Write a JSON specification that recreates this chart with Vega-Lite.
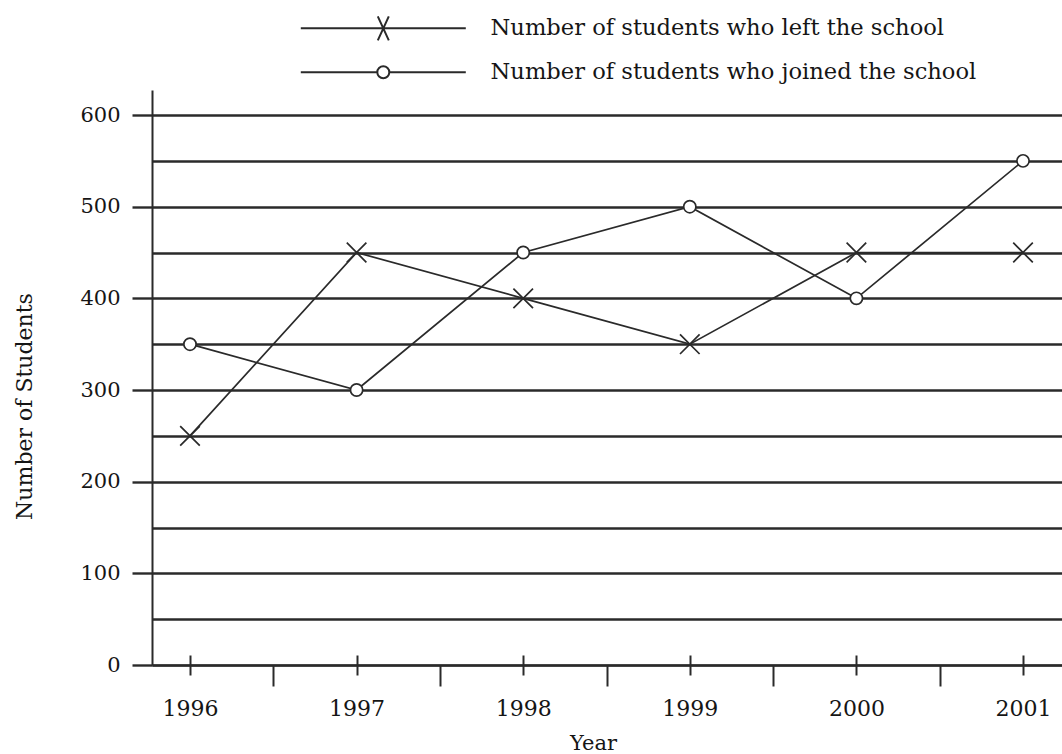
{
  "$schema": "https://vega.github.io/schema/vega-lite/v6.json",
  "width": 910,
  "height": 575,
  "autosize": {"type": "none"},
  "padding": {"left": 152, "top": 90, "right": 0, "bottom": 89},
  "background": "white",
  "config": {
    "view": {"stroke": null},
    "font": "DejaVu Serif",
    "axis": {"labelFont": "DejaVu Serif", "titleFont": "DejaVu Serif", "labelColor": "#151515", "titleColor": "#151515", "domainColor": "#2a2a2a", "tickColor": "#2a2a2a", "gridColor": "#2a2a2a"},
    "legend": {"labelFont": "DejaVu Serif"}
  },
  "data": {"values": [
    {"year": 1996, "series": "Number of students who left the school", "students": 250},
    {"year": 1997, "series": "Number of students who left the school", "students": 450},
    {"year": 1998, "series": "Number of students who left the school", "students": 400},
    {"year": 1999, "series": "Number of students who left the school", "students": 350},
    {"year": 2000, "series": "Number of students who left the school", "students": 450},
    {"year": 2001, "series": "Number of students who left the school", "students": 450},
    {"year": 1996, "series": "Number of students who joined the school", "students": 350},
    {"year": 1997, "series": "Number of students who joined the school", "students": 300},
    {"year": 1998, "series": "Number of students who joined the school", "students": 450},
    {"year": 1999, "series": "Number of students who joined the school", "students": 500},
    {"year": 2000, "series": "Number of students who joined the school", "students": 400},
    {"year": 2001, "series": "Number of students who joined the school", "students": 550}
  ]},
  "encoding": {
    "y": {
      "field": "students", "type": "quantitative",
      "scale": {"domain": [0, 627.3], "nice": false, "zero": true},
      "axis": {
        "values": [0, 50, 100, 150, 200, 250, 300, 350, 400, 450, 500, 550, 600],
        "grid": true, "gridWidth": 2.4, "gridColor": "#2a2a2a",
        "tickSize": 20, "tickWidth": 2.4,
        "tickOpacity": {"condition": {"test": "datum.value % 100 === 0", "value": 1}, "value": 0},
        "labelExpr": "datum.value % 100 === 0 ? datum.label : ''",
        "labelPadding": 12, "labelFontSize": 21,
        "domainWidth": 2,
        "title": "Number of Students", "titleFontSize": 22, "titleFontWeight": "normal",
        "titleX": -128, "titleY": 316, "titleBaseline": "middle", "titleAngle": 270
      }
    }
  },
  "layer": [
    {
      "mark": {"type": "line", "stroke": "#2a2a2a", "strokeWidth": 1.7},
      "encoding": {
        "x": {
          "field": "year", "type": "quantitative",
          "scale": {"domain": [1995.772, 2001.234], "nice": false, "zero": false},
          "axis": {
            "orient": "bottom",
            "values": [1996, 1996.5, 1997, 1997.5, 1998, 1998.5, 1999, 1999.5, 2000, 2000.5, 2001],
            "tickSize": 21,
            "tickDash": {"condition": {"test": "datum.value % 1 === 0", "value": [10, 40]}, "value": [40, 1]},
            "tickWidth": 2,
            "labelExpr": "datum.value % 1 === 0 ? '' + datum.value : ''",
            "labelPadding": 12, "labelFontSize": 22, "labelDx": 3,
            "domainWidth": 2.2, "grid": false,
            "title": "Year", "titleX": 441, "titleY": 78, "titleBaseline": "middle",
            "titleFontSize": 21, "titleFontWeight": "normal"
          }
        },
        "detail": {"field": "series", "type": "nominal"}
      }
    },
    {
      "mark": {"type": "point", "stroke": "#2a2a2a", "fill": "white", "filled": false, "strokeWidth": 1.7, "opacity": 1, "size": 150},
      "encoding": {
        "x": {
          "field": "year", "type": "quantitative",
          "axis": {
            "orient": "top", "offset": -575,
            "values": [1996, 1997, 1998, 1999, 2000, 2001],
            "tickSize": 10, "tickWidth": 2,
            "labels": false, "domain": false, "grid": false, "title": null
          }
        },
        "shape": {
          "field": "series", "type": "nominal",
          "scale": {
            "domain": ["Number of students who left the school", "Number of students who joined the school"],
            "range": ["M-1.6,-1.6L1.6,1.6M-1.6,1.6L1.6,-1.6", "circle"]
          },
          "legend": null
        }
      }
    },
    {
      "mark": {"type": "point", "opacity": 0, "size": 400},
      "encoding": {
        "x": {"field": "year", "type": "quantitative", "axis": null},
        "shape": {
          "field": "series", "type": "nominal",
          "scale": {
            "domain": ["Number of students who left the school", "Number of students who joined the school"],
            "range": ["M-8.25,0H8.25M-0.55,-1.2L0.55,1.2M-0.55,1.2L0.55,-1.2", "M-8.25,0H-0.6M0.6,0H8.25M-0.6,0A0.6,0.6 0 1,1 0.6,0A0.6,0.6 0 1,1 -0.6,0"]
          },
          "legend": {
            "title": null, "orient": "none", "legendX": 220, "legendY": -73,
            "padding": 0, "symbolSize": 400, "symbolOpacity": 1,
            "symbolFillColor": "white", "symbolStrokeColor": "#2a2a2a", "symbolStrokeWidth": 2,
            "labelFontSize": 22.6, "labelColor": "#151515",
            "labelOffset": 96, "rowPadding": 16, "labelLimit": 700
          }
        }
      }
    }
  ],
  "resolve": {"axis": {"x": "independent"}, "scale": {"shape": "independent"}}
}
